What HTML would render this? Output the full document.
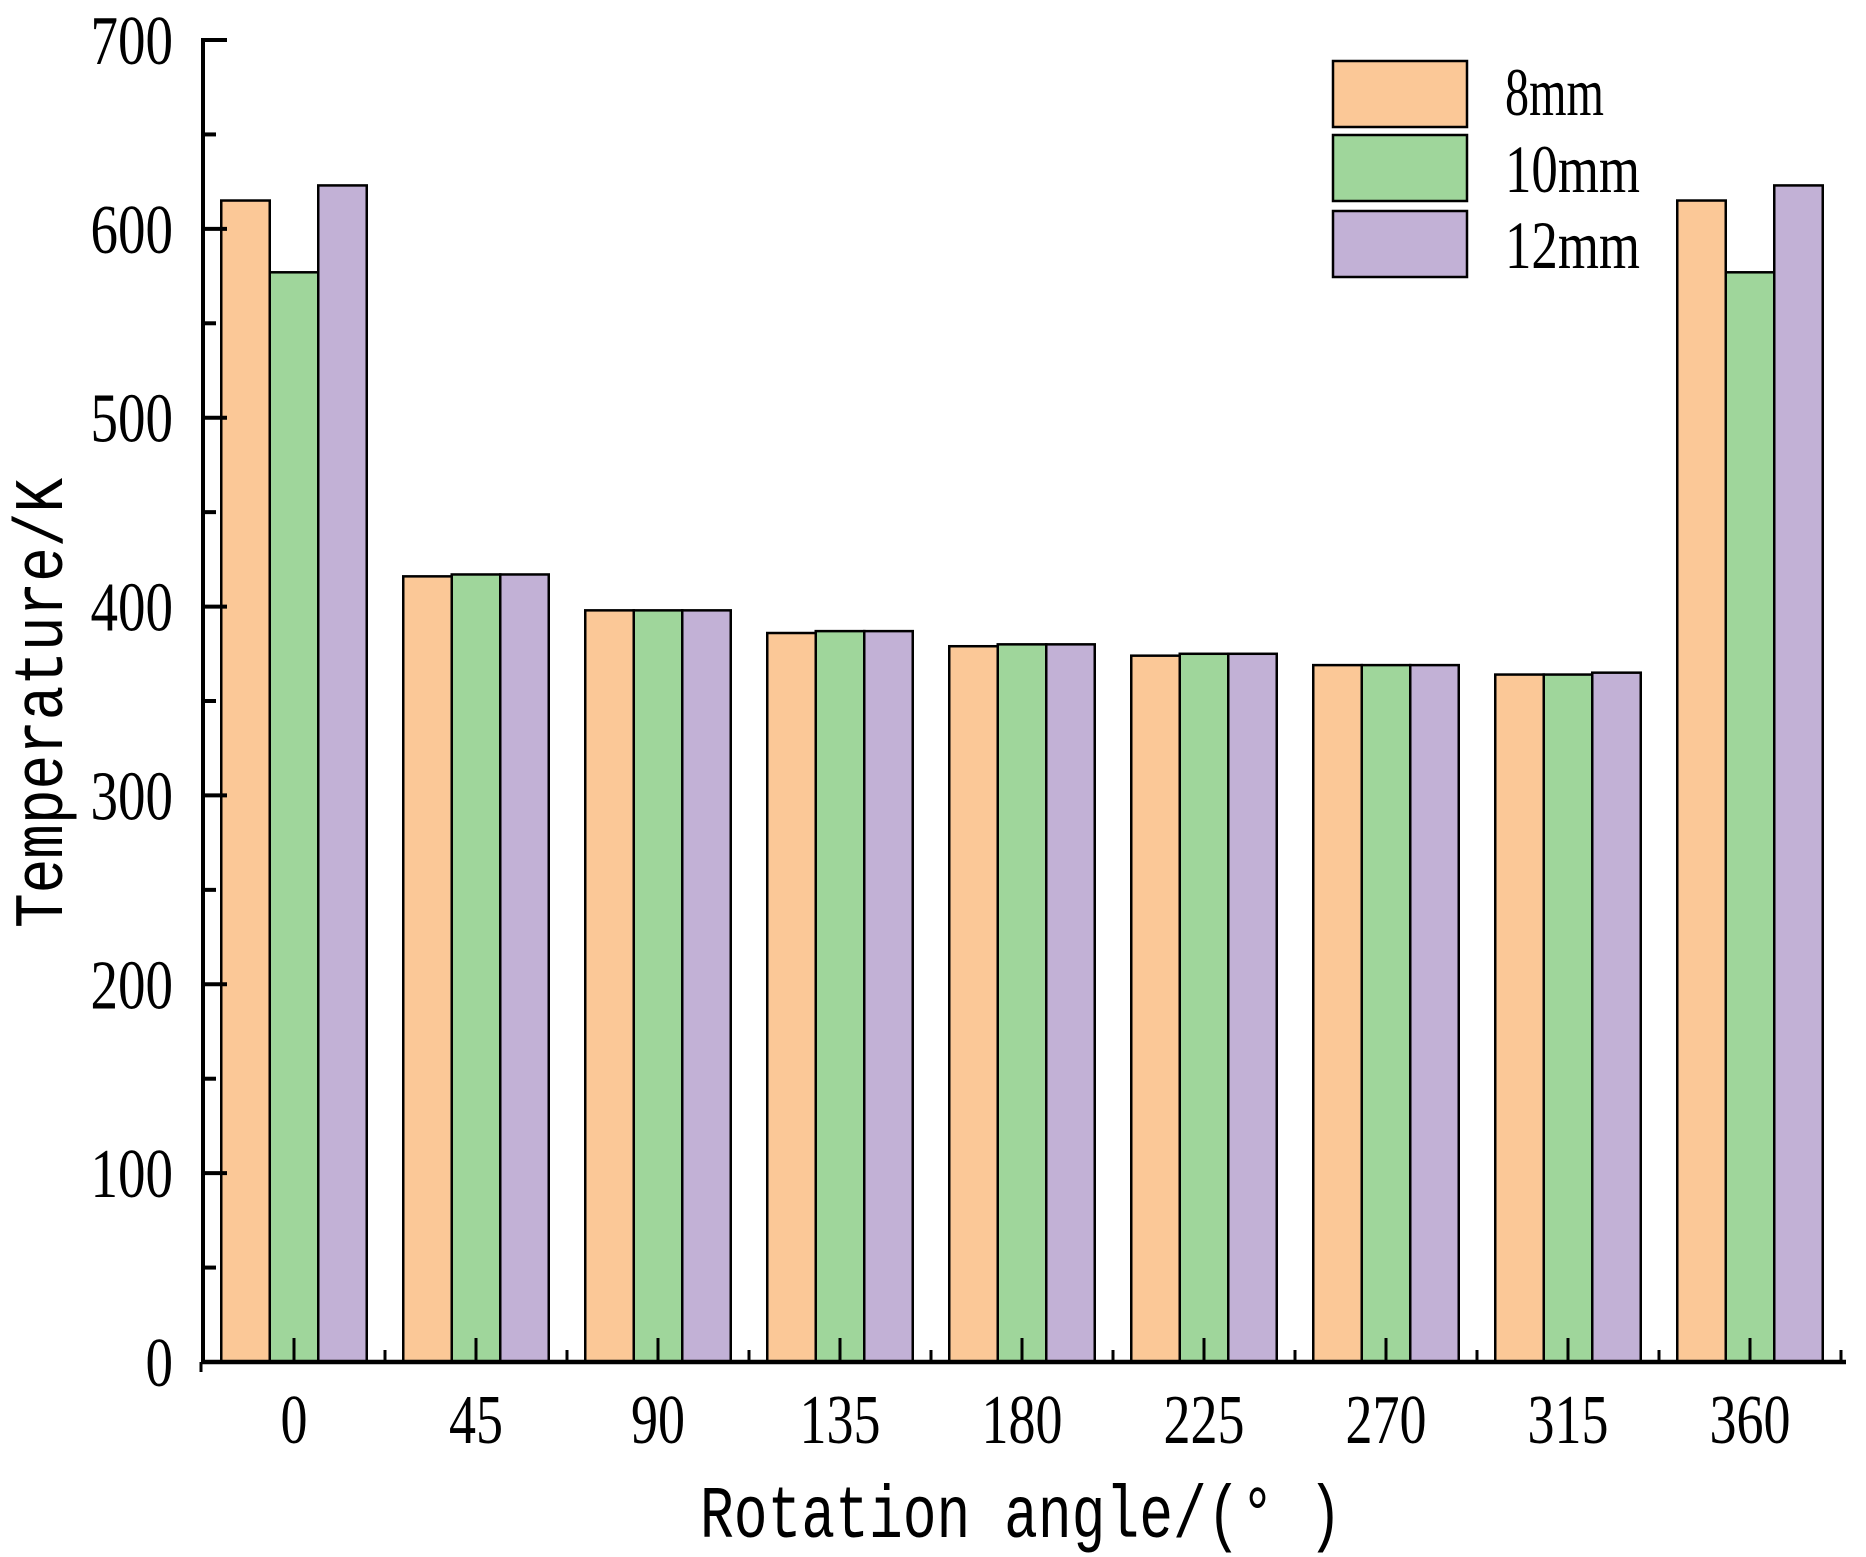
<!DOCTYPE html>
<html><head><meta charset="utf-8"><style>
html,body{margin:0;padding:0;background:#fff;}
svg{display:block;}
text{font-family:"Liberation Serif",serif;fill:#000;}
</style></head><body>
<svg id="chart" width="1866" height="1557" viewBox="0 0 1866 1557" xmlns="http://www.w3.org/2000/svg">
<g id="bars"></g>
<g id="axes"></g>
<g id="legend"></g>
<text transform="translate(62,703) rotate(-90)" text-anchor="middle" font-size="70" style="font-family:'Liberation Mono',monospace" textLength="450" lengthAdjust="spacingAndGlyphs">Temperature/K</text>
<text x="700" y="1537" font-size="74" style="font-family:'Liberation Mono',monospace" textLength="642" lengthAdjust="spacingAndGlyphs">Rotation angle/(° )</text>
</svg>
<script>
const categories = ["0","45","90","135","180","225","270","315","360"];
const series8 = [615,416,398,386,379,374,369,364,615];
const series10 = [577,417,398,387,380,375,369,364,577];
const series12 = [623,417,398,387,380,375,369,365,623];
const seriesNames = ["8mm","10mm","12mm"];
const yTicks = [0,100,200,300,400,500,600,700];

const NS = "http://www.w3.org/2000/svg";
const colors = ["#fbc897","#9fd69b","#c2b1d6"];
const X0 = 203, XEND = 1846, Y0 = 1362, YTOP = 40, YMAX = 700;
const FIRST = 294, STEP = 182.0, BW = 48.5;
function yScale(v){ return Y0 - (v / YMAX) * (Y0 - YTOP); }
function xCenter(i){ return FIRST + i * STEP; }
function mk(tag, attrs, parent){
  const e = document.createElementNS(NS, tag);
  for (const k in attrs) e.setAttribute(k, attrs[k]);
  parent.appendChild(e);
  return e;
}
const bars = document.getElementById("bars");
const axes = document.getElementById("axes");
const legend = document.getElementById("legend");
const allSeries = [series8, series10, series12];

allSeries.forEach((s, si) => {
  s.forEach((v, i) => {
    const x = xCenter(i) + (si - 1.5) * BW;
    const y = yScale(v);
    const r = mk("rect", {x: x, y: y, width: BW, height: Y0 - y, fill: colors[si], stroke: "#000", "stroke-width": 2.5}, bars);
    
    
  });
});

const ya = mk("line", {x1: X0, y1: YTOP - 2, x2: X0, y2: Y0 + 2, stroke: "#000", "stroke-width": 4}, axes);


const xa = mk("line", {x1: X0 - 2, y1: Y0, x2: XEND, y2: Y0, stroke: "#000", "stroke-width": 4.5}, axes);



yTicks.forEach((t, i) => {
  const y = yScale(t);
  mk("line", {x1: X0, y1: y, x2: X0 + 24, y2: y, stroke: "#000", "stroke-width": 4}, axes);
  if (i < yTicks.length - 1) {
    const ym = yScale(t + 50);
    mk("line", {x1: X0, y1: ym, x2: X0 + 13, y2: ym, stroke: "#000", "stroke-width": 4}, axes);
  }
  const s = String(t);
  const lab = mk("text", {x: 173, y: y + 24, "text-anchor": "end", "font-size": 70, textLength: 27.5 * s.length, lengthAdjust: "spacingAndGlyphs"}, axes);
  lab.textContent = s;
  
  
});

categories.forEach((c, i) => {
  const x = xCenter(i);
  mk("line", {x1: x, y1: Y0, x2: x, y2: Y0 - 24, stroke: "#000", "stroke-width": 3}, axes);
  const xm = x + STEP / 2;
  if (xm < XEND) mk("line", {x1: xm, y1: Y0, x2: xm, y2: Y0 - 12, stroke: "#000", "stroke-width": 3}, axes);
  const lab = mk("text", {x: x, y: 1443, "text-anchor": "middle", "font-size": 70, textLength: 27 * c.length, lengthAdjust: "spacingAndGlyphs"}, axes);
  lab.textContent = c;
  
  
});
mk("line", {x1: X0 - 2, y1: Y0, x2: X0 - 2, y2: Y0 + 10, stroke: "#000", "stroke-width": 3}, axes);

const legTops = [61, 135, 211];
const legBase = [115, 192, 268];
const legLen = [99, 135, 135];
seriesNames.forEach((n, i) => {
  const r = mk("rect", {x: 1333, y: legTops[i], width: 134, height: 66, fill: colors[i], stroke: "#000", "stroke-width": 2.5}, legend);
  
  
  const t = mk("text", {x: 1505, y: legBase[i], "font-size": 68, textLength: legLen[i], lengthAdjust: "spacingAndGlyphs"}, legend);
  t.textContent = n;
  
  
});
</script>
</body></html>
